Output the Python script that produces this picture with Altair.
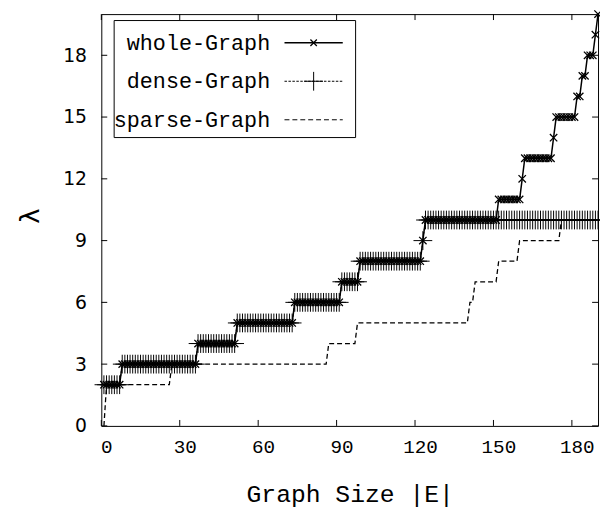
import altair as alt
import pandas as pd

# ---- data (run-length: (lambda value, number of consecutive |E| points), x starts at 1)
x_start = 1
whole_runs = [(2, 7), (3, 29), (4, 15), (5, 22), (6, 18), (7, 7), (8, 24), (9, 1),
              (10, 28), (11, 9), (12, 1), (13, 11), (14, 1), (15, 8), (16, 2),
              (17, 2), (18, 3), (19, 1), (20, 1)]
dense_runs = [(2, 7), (3, 29), (4, 15), (5, 22), (6, 18), (7, 7), (8, 24), (9, 1),
              (10, 67)]
sparse_runs = [(0, 1), (2, 25), (3, 60), (4, 11), (5, 43), (6, 2), (7, 9), (8, 8),
               (9, 16), (10, 15)]

series_names = ["whole-Graph", "dense-Graph", "sparse-Graph"]
x_ticks = [0, 30, 60, 90, 120, 150, 180]
y_ticks = [0, 3, 6, 9, 12, 15, 18]


def expand(runs, name):
    rows = []
    x = x_start
    for val, cnt in runs:
        for _ in range(cnt):
            rows.append({"x": x, "y": val, "series": name})
            x += 1
    return rows


df = pd.DataFrame(expand(whole_runs, series_names[0])
                  + expand(dense_runs, series_names[1])
                  + expand(sparse_runs, series_names[2]))

W, H = 503, 417
X_SHAPE = "M-1,-1L1,1M-1,1L1,-1"
PLUS_SHAPE = "M-1,0L1,0M0,-1L0,1"

xenc = alt.X("x:Q", scale=alt.Scale(domain=[0, 190], nice=False, zero=False),
             axis=alt.Axis(values=x_ticks, title="Graph Size |E|", ticks=False,
                           domain=False, grid=False, labelFont="Liberation Mono",
                           labelFontSize=19.5, labelPadding=12, labelOffset=5,
                           labelFlush=False, labelColor="black",
                           titleFont="Liberation Mono", titleFontSize=25,
                           titleFontWeight="normal", titleColor="black",
                           titleY=69, titleBaseline="middle"))
yenc = alt.Y("y:Q", scale=alt.Scale(domain=[0, 20], nice=False),
             axis=alt.Axis(values=y_ticks, title="λ", ticks=False, domain=False,
                           grid=False, labelFont="DejaVu Sans", labelFontSize=19,
                           labelPadding=15, labelFlush=False, labelColor="black",
                           titleFont="DejaVu Sans", titleFontSize=26,
                           titleFontWeight="normal", titleColor="black",
                           titleX=-72, titleY=204, titleAlign="center",
                           titleBaseline="middle"))

base = alt.Chart(df).encode(x=xenc, y=yenc)

whole_line = base.transform_filter(alt.datum.series == series_names[0]).mark_line(
    color="black", strokeWidth=1.5)
whole_pts = base.transform_filter(alt.datum.series == series_names[0]).mark_point(
    shape=X_SHAPE, size=56, filled=False, stroke="black", strokeWidth=1.3, opacity=1)
dense_line = base.transform_filter(alt.datum.series == series_names[1]).mark_line(
    color="black", strokeWidth=1, strokeDash=[2, 1.5])
dense_pts = base.transform_filter(alt.datum.series == series_names[1]).mark_point(
    shape=PLUS_SHAPE, size=361, filled=False, stroke="black", strokeWidth=1, opacity=1)
sparse_line = base.transform_filter(alt.datum.series == series_names[2]).mark_line(
    color="black", strokeWidth=1.3, strokeDash=[5, 3])

# inward (mirrored) ticks, on the same scales/axes as the data
xt = pd.DataFrame({"x": x_ticks})
yt = pd.DataFrame({"y": y_ticks})
xtick_b = alt.Chart(xt).mark_rule(color="black", strokeWidth=1).encode(
    x=xenc, y=alt.value(H), y2=alt.value(H - 6))
xtick_t = alt.Chart(xt).mark_rule(color="black", strokeWidth=1).encode(
    x=xenc, y=alt.value(0), y2=alt.value(6))
ytick_l = alt.Chart(yt).mark_rule(color="black", strokeWidth=1).encode(
    y=yenc, x=alt.value(0), x2=alt.value(6))
ytick_r = alt.Chart(yt).mark_rule(color="black", strokeWidth=1).encode(
    y=yenc, x=alt.value(W), x2=alt.value(W - 6))

# legend (gnuplot style key: label, then line sample)
leg_rows = [29, 68, 107]
legend_layers = [
    alt.Chart().mark_rect(fillOpacity=0, stroke="black", strokeWidth=1).encode(
        x=alt.value(13), x2=alt.value(257.5), y=alt.value(6.5), y2=alt.value(125))
]
dashes = [None, [2.5, 1.5], [5, 3]]
for i, name in enumerate(series_names):
    legend_layers.append(
        alt.Chart().mark_text(align="right", baseline="middle", font="Liberation Mono",
                              fontSize=22, color="black").encode(
            x=alt.value(171), y=alt.value(leg_rows[i]), text=alt.value(name)))
    kw = dict(color="black", strokeWidth=1.5 if i == 0 else 1)
    if dashes[i] is not None:
        kw["strokeDash"] = dashes[i]
    legend_layers.append(
        alt.Chart().mark_rule(**kw).encode(
            x=alt.value(185.5), x2=alt.value(244.5), y=alt.value(leg_rows[i])))
legend_layers.append(
    alt.Chart().mark_point(shape=X_SHAPE, size=42, filled=False, stroke="black",
                           strokeWidth=1.3, opacity=1).encode(
        x=alt.value(215), y=alt.value(leg_rows[0])))
legend_layers.append(
    alt.Chart().mark_point(shape=PLUS_SHAPE, size=361, filled=False, stroke="black",
                           strokeWidth=1, opacity=1).encode(
        x=alt.value(215), y=alt.value(leg_rows[1])))

chart = alt.layer(
    sparse_line, dense_line, dense_pts, whole_line, whole_pts,
    xtick_b, xtick_t, ytick_l, ytick_r, *legend_layers
).properties(
    width=W, height=H,
    autosize=alt.AutoSizeParams(type="none"),
    padding={"left": 94.5, "top": 3, "right": 2, "bottom": 84},
    background="white",
).configure_view(stroke="black", strokeWidth=1)

chart.save("out.html", embed_options={"renderer": "svg", "actions": False})
